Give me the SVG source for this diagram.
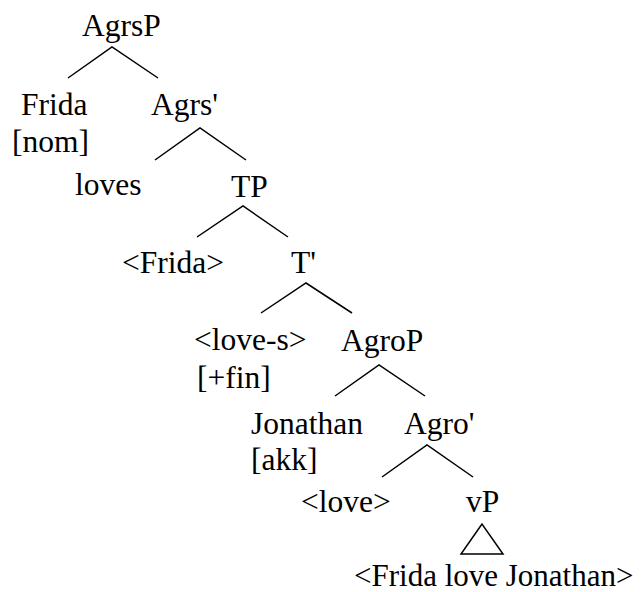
<svg xmlns="http://www.w3.org/2000/svg" width="643" height="592" viewBox="0 0 643 592">
<style>
text{font-family:"Liberation Serif","Times New Roman",serif;font-size:31.5px;fill:#000}
.e{stroke:#000;stroke-width:1.5;fill:none}
</style>
<rect width="643" height="592" fill="#fff"/>
<g id="connectors">
<polyline class="e" points="68,78 112,47 158,78"/>
<polyline class="e" points="155,160 200,128 246,160"/>
<polyline class="e" points="197,237 243,206 288,237"/>
<polyline class="e" points="261,313 306,283 352,313"/>
<polyline class="e" points="335,396 379,365 425,396"/>
<polyline class="e" points="382,477 427,445 473,477"/>
<polygon class="e" points="482,524 461,554 503,554"/>
</g>
<g id="n-agrsp"><text x="82" y="36">AgrsP</text></g>
<g id="n-frida"><text x="21" y="115">Frida</text><text x="12" y="152">[nom]</text></g>
<g id="n-agrs1"><text x="151" y="115">Agrs'</text></g>
<g id="n-loves"><text x="75" y="195">loves</text></g>
<g id="n-tp"><text x="231" y="197">TP</text></g>
<g id="n-frida2"><text x="122" y="273">&lt;Frida&gt;</text></g>
<g id="n-t1"><text x="291" y="273">T'</text></g>
<g id="n-loves2"><text x="194" y="350">&lt;love-s&gt;</text><text x="197" y="388">[+fin]</text></g>
<g id="n-agrop"><text x="341" y="351">AgroP</text></g>
<g id="n-jonathan"><text x="251" y="434">Jonathan</text><text x="251" y="470">[akk]</text></g>
<g id="n-agro1"><text x="404" y="434">Agro'</text></g>
<g id="n-love"><text x="301" y="512">&lt;love&gt;</text></g>
<g id="n-vp"><text x="466" y="512">vP</text></g>
<g id="n-vpcontent"><text x="354" y="586" style="font-size:31px">&lt;Frida love Jonathan&gt;</text></g>
</svg>
